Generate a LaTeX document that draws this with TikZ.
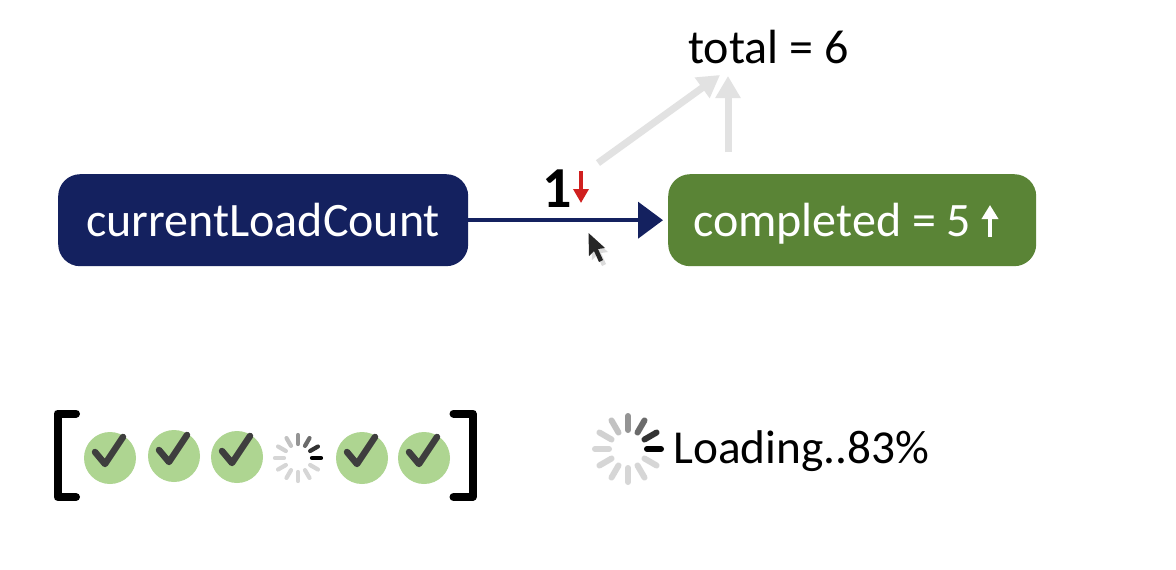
\documentclass[tikz,border=0pt]{standalone}
\usepackage{fontspec}
\setmainfont{Carlito}
\usetikzlibrary{arrows.meta}
\definecolor{navy}{HTML}{14215F}
\definecolor{leaf}{HTML}{5A8436}
\definecolor{palegreen}{HTML}{AED591}
\definecolor{ghost}{HTML}{E2E2E2}
\definecolor{tickdark}{HTML}{3E3E3E}
\definecolor{downred}{HTML}{D0201F}
\tikzset{
  x=1pt,y=-1pt,
  flowbox/.style={rounded corners=22pt,minimum height=92pt,inner sep=0pt,text=white,font=\fontsize{48}{48}\selectfont,anchor=north west,text height=32pt,text depth=0pt},
  plain/.style={inner sep=0pt,text=black,font=\fontsize{48}{48}\selectfont},
  ghostline/.style={draw=ghost,line width=7pt,-{Triangle[length=22pt,width=24pt]}},
  mainline/.style={draw=navy,line width=4.2pt,-{Triangle[length=25pt,width=36pt]},shorten >=5pt},
  bracket/.style={line width=8pt,line cap=round,line join=round,black},
  tick/.style={line width=6.5pt,tickdark,line join=round,line cap=round}
}
% done item at centre (#1,#2), scaled to a 26pt radius
\newcommand{\doneitem}[2]{%
  \fill[palegreen] (#1,#2) circle[radius=26pt];
  \draw[tick] (#1-15,#2-6) -- (#1-5,#2+6) -- (#1+13,#2-21);
}
% spinner at centre (#1,#2), inner radius #3, outer radius #4, bar width #5
\newcommand{\spinner}[5]{%
  \foreach \ang/\shade in {0/100,30/80,60/58,90/42,120/24,150/18,180/16,210/16,240/16,270/16,300/16,330/16}{
    \draw[black!\shade,line width=#5,line cap=round]
      (#1+#3*cos \ang,#2-#3*sin \ang) -- (#1+#4*cos \ang,#2-#4*sin \ang);
  }%
}
\begin{document}
\begin{tikzpicture}
\useasboundingbox (0,0) rectangle (1176,570);
\fill[white] (0,0) rectangle (1176,570);
\node[flowbox,fill=navy,minimum width=410pt] (load) at (58,174) {currentLoadCount};
\node[flowbox,fill=leaf,minimum width=368pt] (done) at (668,174) {\makebox[368pt][l]{\hspace*{25pt}completed = 5}};
\node[plain] (total) at (768.5,47) {total = 6};
\node[plain,font=\fontsize{58}{58}\bfseries\selectfont] (one) at (557,189) {1};
\node[plain,anchor=west,font=\fontsize{47.3}{48}\selectfont] (loading) at (673,451.5) {Loading..83\%};
\coordinate (g1) at (598,163);
\coordinate (g2) at (720,75);
\coordinate (g3) at (728,152);
\coordinate (g4) at (728,76);
\coordinate (up1) at (990,237);
\coordinate (up2) at (990,205);
\coordinate (dn1) at (581,171);
\coordinate (dn2) at (581,203);
\draw[ghostline] (g1) -- (g2);
\draw[ghostline] (g3) -- (g4);
\draw[mainline] (load.east) -- (done.west);
\draw[white,line width=4pt,-{Triangle[length=14pt,width=16pt]}] (up1) -- (up2);
\draw[downred,line width=3.4pt,-{Triangle[length=14pt,width=15pt]}] (dn1) -- (dn2);
% cursor
\fill[black!14] (591,237) -- (592,260) -- (597,255) -- (602,266) -- (606,264) -- (601,253) -- (608,252) -- cycle;
\fill[black!85] (588.5,233) -- (589,256) -- (594,251) -- (599,262) -- (603,260) -- (598,249) -- (605,248) -- cycle;
% list
\draw[bracket] (76,413.5) -- (57.5,413.5) -- (57.5,497) -- (76,497);
\draw[bracket] (453.5,413.5) -- (472.5,413.5) -- (472.5,497) -- (453.5,497);
\doneitem{110}{458}
\doneitem{174}{456}
\doneitem{237}{457}
\doneitem{362}{458}
\doneitem{424}{458}
\spinner{298}{458}{14}{23}{4.2pt}
\spinner{628}{449}{19}{33}{6pt}
\end{tikzpicture}
\end{document}
